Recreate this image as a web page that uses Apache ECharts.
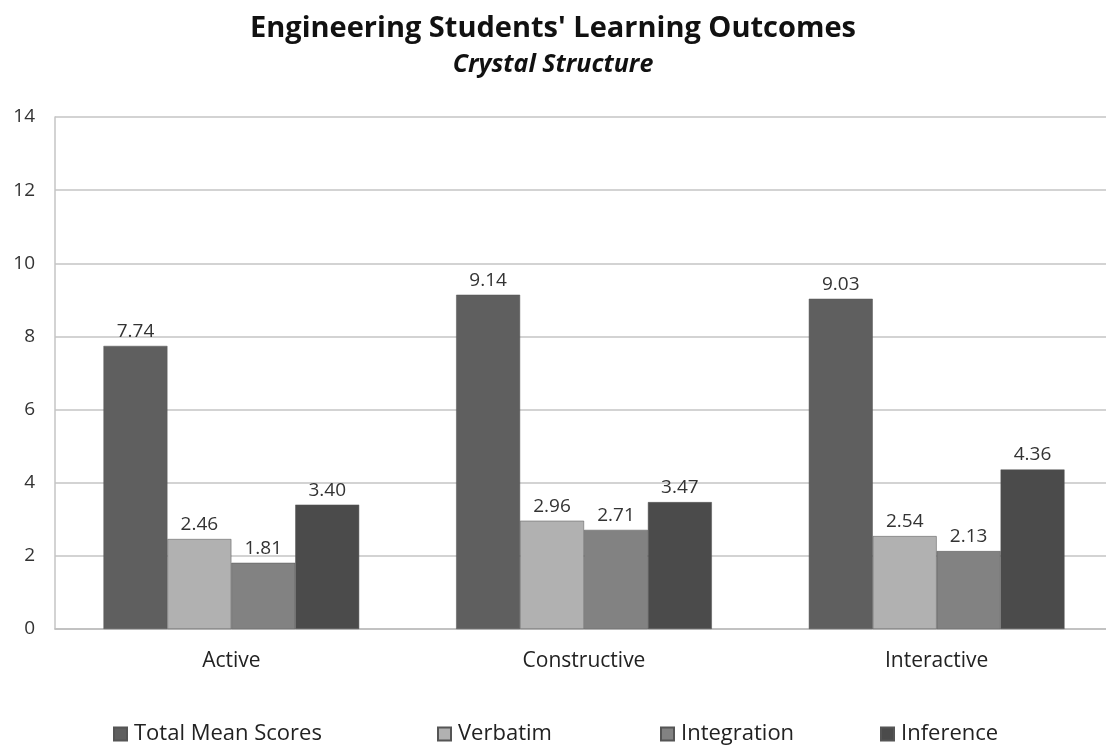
<!DOCTYPE html>
<html>
<head>
<meta charset="utf-8">
<script src="https://cdn.jsdelivr.net/npm/echarts@6/dist/echarts.min.js"></script>
<style>
  html, body { margin: 0; padding: 0; background: #fff; }
  #chart { width: 1106px; height: 746px; }
</style>
</head>
<body>
<div id="chart"></div>
<script>
const categories = ["Active", "Constructive", "Interactive"];
const totalMean = [7.74, 9.14, 9.03];
const verbatim = [2.46, 2.96, 2.54];
const integration = [1.81, 2.71, 2.13];
const inference = [3.40, 3.47, 4.36];
const seriesNames = ["Total Mean Scores", "Verbatim", "Integration", "Inference"];
const colors = ["#5f5f5f", "#b1b1b1", "#828282", "#4b4b4b"];

const font = "'Open Sans', 'Noto Sans', sans-serif";

const makeBar = (name, data, i) => ({
  name,
  type: "bar",
  data,
  barGap: "0%",
  barCategoryGap: "27.5%",
  itemStyle: { color: colors[i], borderColor: "#555", borderWidth: 0.5 },
  label: {
    show: true,
    position: "top",
    distance: 5,
    color: "#333",
    fontFamily: font,
    fontSize: 19,
    formatter: (p) => p.value.toFixed(2),
  },
});

// one legend per item so each sits where it does in the reference
const legendX = [113, 437, 660, 880];
const legends = seriesNames.map((n, i) => ({
  data: [n],
  left: legendX[i],
  top: 723,
  padding: 0,
  icon: "rect",
  itemWidth: 13,
  itemHeight: 13,
  textStyle: { color: "#222", fontFamily: font, fontSize: 22, padding: [0, 0, 0, 2] },
}));

const chart = echarts.init(document.getElementById("chart"));
chart.setOption({
  backgroundColor: "#fff",
  color: colors,
  animation: false,
  title: {
    text: "Engineering Students' Learning Outcomes",
    subtext: "Crystal Structure",
    left: "center",
    top: 9,
    itemGap: 9,
    textStyle: { color: "#111", fontFamily: font, fontSize: 29, fontWeight: "bold" },
    subtextStyle: { color: "#111", fontFamily: font, fontSize: 25, fontWeight: "bold", fontStyle: "italic" },
  },
  legend: legends,
  grid: { left: 55, top: 117, width: 1058, height: 512, outerBoundsMode: "none" },
  xAxis: {
    type: "category",
    data: categories,
    axisLine: { lineStyle: { color: "#bdbdbd", width: 1.5 } },
    axisTick: { show: false },
    axisLabel: { color: "#222", fontFamily: font, fontSize: 21, margin: 22 },
  },
  yAxis: {
    type: "value",
    min: 0,
    max: 14,
    interval: 2,
    axisLine: { show: true, lineStyle: { color: "#c4c4c4", width: 1.5 } },
    axisTick: { show: false },
    axisLabel: { color: "#333", fontFamily: font, fontSize: 19, margin: 20 },
    splitLine: { lineStyle: { color: "#c4c4c4", width: 1.5 } },
  },
  series: [
    makeBar(seriesNames[0], totalMean, 0),
    makeBar(seriesNames[1], verbatim, 1),
    makeBar(seriesNames[2], integration, 2),
    makeBar(seriesNames[3], inference, 3),
  ],
});
</script>
</body>
</html>
